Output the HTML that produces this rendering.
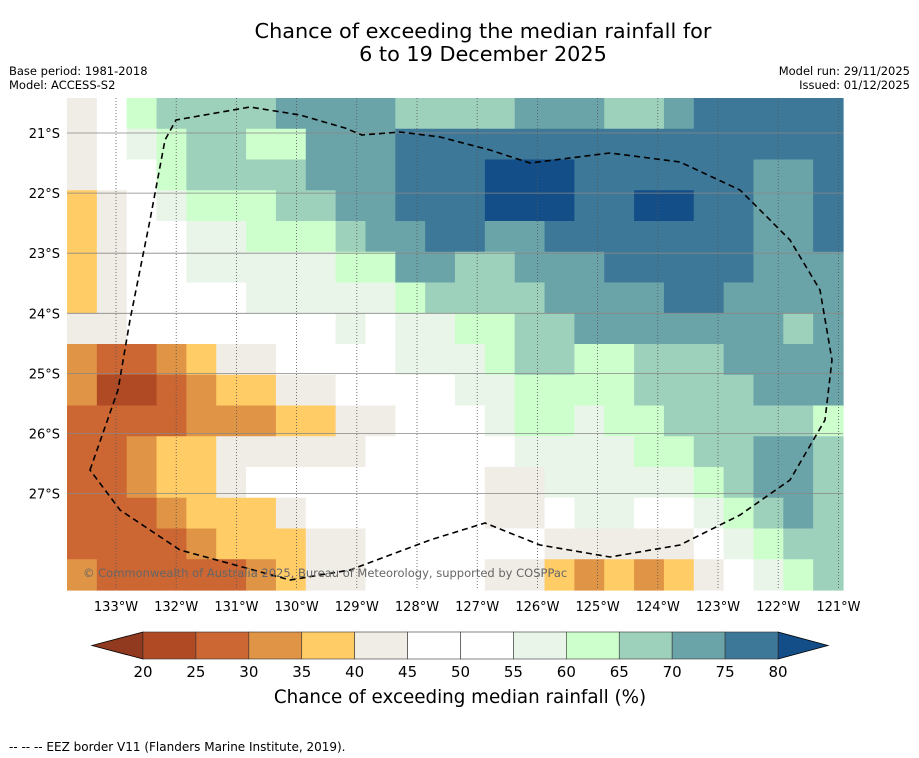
<!DOCTYPE html>
<html><head><meta charset="utf-8"><style>
body{margin:0;background:#fff;width:919px;height:758px;overflow:hidden;font-family:"DejaVu Sans","Liberation Sans",sans-serif}
svg{position:absolute;left:0;top:0}
</style></head><body>
<svg width="919" height="758" xmlns="http://www.w3.org/2000/svg">
<text x="483" y="38" font-size="20.8" text-anchor="middle">Chance of exceeding the median rainfall for</text>
<text x="483" y="61" font-size="20.8" text-anchor="middle">6 to 19 December 2025</text>
<text x="9" y="75" font-size="11.5">Base period: 1981-2018</text>
<text x="9" y="89" font-size="11.5">Model: ACCESS-S2</text>
<text x="910" y="75" font-size="11.5" text-anchor="end">Model run: 29/11/2025</text>
<text x="910" y="89" font-size="11.5" text-anchor="end">Issued: 01/12/2025</text>
<g id="cells"></g>
<g id="grid"></g>
<path id="eez" fill="none" stroke="#000" stroke-width="1.6" stroke-dasharray="6,4"
d="M90,470 L118,390 L130,320 L150,220 L165,140 L176,120 L250,107 L300,115 L345,128 L362,135 L400,132 L440,137 L490,150 L530,163 L610,153 L680,162 L740,190 L790,240 L820,290 L832,360 L825,420 L790,480 L740,515 L680,545 L610,557 L540,545 L485,523 L430,540 L350,570 L290,580 L180,550 L120,510 Z"/>
<text x="83" y="577" font-size="11.5" fill="#666">© Commonwealth of Australia 2025, Bureau of Meteorology, supported by COSPPac</text>
<g id="axes"></g>
<g id="cbar"></g>
<text x="460" y="703" font-size="18.3" text-anchor="middle">Chance of exceeding median rainfall (%)</text>
<text x="9" y="751" font-size="12">--  --  -- EEZ border V11 (Flanders Marine Institute, 2019).</text>
</svg>
<script>
const levels=[20,25,30,35,40,45,50,55,60,65,70,75,80];
const levelColors=["#923a20","#b04a25","#cc6633","#e09445","#ffcc66","#f0ece6","#ffffff","#ffffff","#eaf5ea","#ccffcc","#9dd1bb","#6ba4a8","#3d7898","#134e88"];
const lonLabels=["133°W","132°W","131°W","130°W","129°W","128°W","127°W","126°W","125°W","124°W","123°W","122°W","121°W"];
const latLabels=["21°S","22°S","23°S","24°S","25°S","26°S","27°S"];
const rows=[
[42,50,62,67,67,67,67,72,72,72,72,67,67,67,67,72,72,72,67,67,72,77,77,77,77,77],
[42,50,57,62,67,67,62,62,72,72,72,77,77,77,77,77,77,77,77,77,77,77,77,77,77,77],
[42,50,50,62,67,67,67,67,72,72,72,77,77,77,82,82,82,77,77,77,77,77,77,72,72,77],
[37,42,50,57,62,62,62,67,67,72,72,77,77,77,82,82,82,77,77,82,82,77,77,72,72,77],
[37,42,50,50,57,57,62,62,62,67,72,72,77,77,72,72,77,77,77,77,77,77,77,72,72,77],
[37,42,50,50,57,57,57,57,57,62,62,72,72,67,67,72,72,72,77,77,77,77,77,72,72,72],
[37,42,50,50,50,50,57,57,57,57,57,62,67,67,67,67,72,72,72,72,77,77,72,72,72,72],
[42,42,50,50,50,50,50,50,50,57,50,57,57,62,62,67,67,72,72,72,72,72,72,72,67,72],
[32,27,27,32,37,42,42,50,50,50,50,57,57,57,62,67,67,62,62,67,67,67,72,72,72,72],
[32,22,22,27,32,37,37,42,42,50,50,50,50,57,57,62,62,62,62,67,67,67,67,72,72,72],
[27,27,27,27,32,32,32,37,37,42,42,50,50,50,57,62,62,57,62,62,67,67,67,67,67,62],
[27,27,32,37,37,42,42,42,42,42,50,50,50,50,50,57,57,57,57,62,62,67,67,72,72,67],
[27,27,32,37,37,42,50,50,50,50,50,50,50,50,42,42,57,57,57,57,57,62,67,72,72,67],
[27,27,27,32,37,37,37,42,50,50,50,50,50,50,42,42,50,57,57,50,50,57,62,67,72,67],
[27,27,27,27,32,37,37,37,42,42,50,50,50,50,50,50,42,42,42,42,42,50,57,62,67,67],
[32,27,27,27,27,27,32,37,42,42,50,50,50,50,42,42,37,32,37,32,37,42,50,57,62,67]];
const NS="http://www.w3.org/2000/svg";
const mx0=67,mx1=843,my0=98,my1=590;
const nc=rows[0].length,nr=rows.length;
const cx=c=>mx0+c*(mx1-mx0)/nc, cy=r=>my0+r*(my1-my0)/nr;
function colorOf(v){let i=0;while(i<levels.length&&v>=levels[i])i++;return levelColors[i];}
function mk(t,a,p){const e=document.createElementNS(NS,t);for(const k in a)e.setAttribute(k,a[k]);p.appendChild(e);return e;}
const cells=document.getElementById('cells');
rows.forEach((row,r)=>row.forEach((v,c)=>{
 const e=mk('rect',{x:cx(c),y:cy(r),width:(mx1-mx0)/nc+0.6,height:(my1-my0)/nr+0.6,fill:colorOf(v)},cells);
 
 
}));
const lonX=i=>116+i*60.2, latY=i=>133+i*60.1;
const grid=document.getElementById('grid'),axes=document.getElementById('axes');
lonLabels.forEach((l,i)=>{
 const x=lonX(i);
 if(x<mx1){const g=mk('line',{x1:x,x2:x,y1:my0,y2:my1,stroke:'#555','stroke-width':0.8,'stroke-dasharray':'1,2'},grid);
 
 }
 const t=mk('text',{x:x,y:611,'font-size':13,'text-anchor':'middle'},axes);t.textContent=l;
 
 
});
latLabels.forEach((l,i)=>{
 const y=latY(i);
 const g=mk('line',{x1:mx0,x2:mx1,y1:y,y2:y,stroke:'#888','stroke-width':0.8},grid);
 
 
 const t=mk('text',{x:60,y:y+5,'font-size':13,'text-anchor':'end'},axes);t.textContent=l;
 
 
});
const cb=document.getElementById('cbar');
const bx0=143,bx1=778,by0=632,by1=659;
const bx=v=>bx0+(v-levels[0])/(levels[levels.length-1]-levels[0])*(bx1-bx0);
const la=mk('polygon',{points:`${bx0},${by0} ${bx0},${by1} 92,${(by0+by1)/2}`,fill:levelColors[0],stroke:'#000','stroke-width':0.8},cb);


const ra=mk('polygon',{points:`${bx1},${by0} ${bx1},${by1} 828,${(by0+by1)/2}`,fill:levelColors[13],stroke:'#000','stroke-width':0.8},cb);


for(let i=0;i<levels.length-1;i++){
 const s=mk('rect',{x:bx(levels[i]),y:by0,width:bx(levels[i+1])-bx(levels[i]),height:by1-by0,fill:levelColors[i+1],stroke:'#333','stroke-width':0.6},cb);
 
 
}
levels.forEach(v=>{
 const t=mk('text',{x:bx(v),y:677,'font-size':15,'text-anchor':'middle'},cb);t.textContent=v;
 
 
});
</script>
</body></html>
